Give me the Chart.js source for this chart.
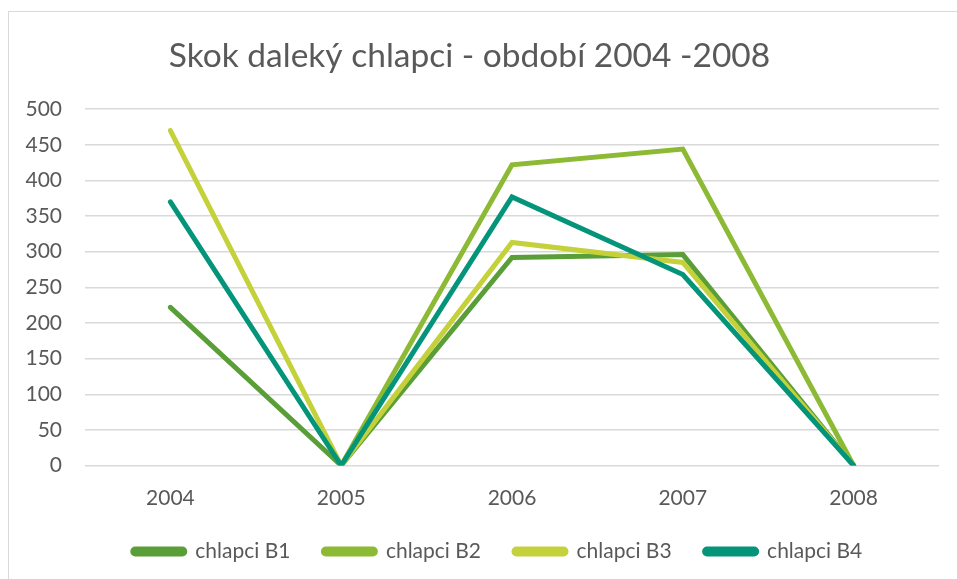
<!DOCTYPE html>
<html>
<head>
<meta charset="utf-8">
<script src="https://cdn.jsdelivr.net/npm/chart.js@4"></script>
<style>
  html, body { margin: 0; padding: 0; background: #fff; overflow: hidden; }
  #wrap { position: relative; width: 957px; height: 579px; }
  #frame { position: absolute; left: 8px; top: 11px; width: 970px; height: 600px; border: 1px solid #d9d9d9; }
  canvas { position: absolute; left: 0; top: 0; }
</style>
</head>
<body>
<div id="wrap">
  <div id="frame"></div>
  <canvas id="chart" width="957" height="579"></canvas>
</div>
<script>
// data
const years = ['2004', '2005', '2006', '2007', '2008']
const b1 = [222, 0, 292, 296, 0]
const b2 = [null, 0, 422, 444, 0]   // no 2004 value drawn for B2
const b3 = [470, 0, 313, 285, 0]
const b4 = [370, 0, 377, 268, 0]
const seriesNames = ['chlapci B1', 'chlapci B2', 'chlapci B3', 'chlapci B4']
const seriesColors = ['#5a9e37', '#8cba34', '#c4d13b', '#03947a']

const textColor = '#595959'
const font = 'Lato'

function line(idx, values, order){
  return {
    label: seriesNames[idx],
    data: values,
    borderColor: seriesColors[idx],
    backgroundColor: seriesColors[idx],
    borderWidth: 5,
    borderCapStyle: 'round',
    borderJoinStyle: 'miter',
    pointRadius: 0,
    fill: false,
    tension: 0,
    order: order
  }
}

// legend sits a bit right of centre in the original
const shiftLegend = {
  id: 'shiftLegend',
  afterLayout(chart){
    chart.legend.left += 28
    chart.legend.right += 28
  }
}

const ctx = document.getElementById('chart').getContext('2d')
const chart = new Chart(ctx, {
  type: 'line',
  data: {
    labels: years,
    datasets: [
      line(0, b1, 3),
      line(1, b2, 2),
      line(2, b3, 1),
      line(3, b4, 0)
    ]
  },
  plugins: [shiftLegend],
  options: {
    responsive: false,
    animation: false,
    layout: {
      padding: { top: 36, left: 0, right: 18, bottom: 7 }
    },
    plugins: {
      title: {
        display: true,
        text: 'Skok daleký chlapci - období 2004 -2008',
        color: textColor,
        font: { family: font, size: 33.5, weight: 'normal' },
        padding: { top: 0, bottom: 33 }
      },
      legend: {
        position: 'bottom',
        labels: {
          color: textColor,
          font: { family: font, size: 21 },
          boxWidth: 52,
          boxHeight: 5,
          useBorderRadius: true,
          borderRadius: 2.5,
          padding: 33,
          sort: (a, b) => a.datasetIndex - b.datasetIndex
        }
      },
      tooltip: { enabled: false }
    },
    scales: {
      x: {
        offset: true,
        grid: { display: false },
        border: { display: false },
        ticks: {
          color: textColor,
          font: { family: font, size: 21 },
          padding: 12,
          maxRotation: 0
        },
        afterFit: (scale) => { scale.height = 42.5 }
      },
      y: {
        min: 0,
        max: 500,
        ticks: {
          stepSize: 50,
          color: textColor,
          font: { family: font, size: 21 },
          padding: 23
        },
        grid: {
          color: '#d9d9d9',
          lineWidth: 1.4,
          drawTicks: false
        },
        border: { display: false },
        afterFit: (scale) => { scale.width = 85 }
      }
    }
  }
})
</script>
</body>
</html>
